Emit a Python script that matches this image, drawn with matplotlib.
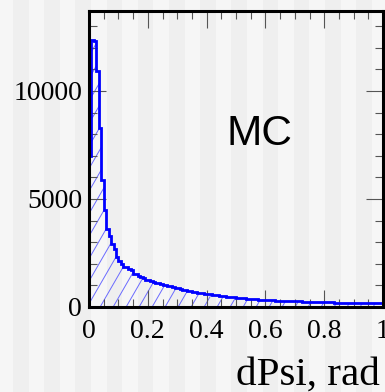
import matplotlib
matplotlib.use("Agg")
import matplotlib.pyplot as plt
from matplotlib.patches import Rectangle
from matplotlib.collections import LineCollection
from matplotlib.ticker import MultipleLocator
import numpy as np

# dPsi histogram, 120 bins over [0, 1] (counts)
bin_lo, bin_hi, n_bins = 0.0, 1.0, 120
counts = [
    7000, 12350, 12300, 10900, 8300, 5900, 4500, 3600, 3300, 2900,
    2700, 2300, 2150, 2000, 1870, 1850, 1750, 1700, 1550, 1520,
    1420, 1390, 1330, 1260, 1250, 1200, 1150, 1110, 1090, 1060,
    1020, 1000, 985, 950, 920, 895, 860, 820, 780, 765,
    740, 720, 705, 690, 660, 645, 630, 610, 600, 590,
    570, 560, 550, 530, 515, 500, 480, 472, 460, 450,
    430, 425, 410, 400, 392, 380, 372, 360, 352, 345,
    335, 330, 320, 316, 310, 305, 300, 296, 290, 285,
    280, 278, 270, 268, 262, 258, 255, 250, 246, 240,
    238, 235, 230, 228, 225, 222, 218, 215, 212, 210,
    208, 205, 203, 200, 198, 196, 194, 192, 190, 188,
    186, 184, 182, 180, 178, 176, 175, 173, 172, 170,
]
x_ticks = [0, 0.2, 0.4, 0.6, 0.8, 1]
x_ticklabels = ["0", "0.2", "0.4", "0.6", "0.8", "1"]
y_ticks = [0, 5000, 10000]
x_label = "dPsi, rad"
tag = "MC"

W, H = 385, 392
fig = plt.figure(figsize=(W / 100, H / 100), dpi=100)
fig.patch.set_facecolor("#f6f6f6")

# faint vertical page stripes behind everything
stripe_w = 15.6
x0 = 13.0
while x0 < W:
    fig.patches.append(Rectangle((x0 / W, 0), stripe_w / W, 1, transform=fig.transFigure,
                                 facecolor="#efefef", edgecolor="none", zorder=-10))
    x0 += 2 * stripe_w

ax_w, ax_h = 383 - 89, 307 - 11
ax = fig.add_axes([89 / W, 1 - 307 / H, ax_w / W, ax_h / H])
ax.set_facecolor("none")

edges = np.linspace(bin_lo, bin_hi, n_bins + 1)
area = ax.stairs(counts, edges, fill=True, facecolor="none", edgecolor="none", zorder=1)
ax.stairs(counts, edges, color="#0000ff", linewidth=2.0, zorder=2)

# ROOT-like hatching: thin diagonal lines clipped to the filled histogram
spacing, angle = 13.0, 60.0
run = ax_h / np.tan(np.radians(angle))
segs = []
for xs in np.arange(-run, ax_w + spacing, spacing):
    segs.append([(xs / ax_w, 0.0), ((xs + run) / ax_w, 1.0)])
hatch = LineCollection(segs, colors="#6a6aff", linewidths=0.7,
                       transform=ax.transAxes, zorder=1.5)
ax.add_collection(hatch)
hatch.set_clip_path(area)

ax.set_xlim(0, 1)
ax.set_ylim(0, 13700)

serif = ["Liberation Serif", "DejaVu Serif"]
ax.set_xticks(x_ticks)
ax.set_xticklabels(x_ticklabels, family=serif, fontsize=20)
ax.set_yticks(y_ticks)
ax.set_yticklabels([str(v) for v in y_ticks], family=serif, fontsize=20)
ax.xaxis.set_minor_locator(MultipleLocator(0.05))
ax.yaxis.set_minor_locator(MultipleLocator(1000))

ax.tick_params(which="both", direction="in", top=True, right=True, color="#555555", width=0.8)
ax.tick_params(which="major", length=12.5)
ax.tick_params(which="minor", length=6)
ax.tick_params(axis="x", pad=9)
ax.tick_params(axis="y", pad=5)

for s in ax.spines.values():
    s.set_linewidth(2.2)
    s.set_color("black")
    s.set_zorder(5)

ax.text(0.469, 7500, tag, family=["Liberation Sans", "DejaVu Sans"], fontsize=30.5,
        ha="left", va="baseline")
fig.text(380 / W, 1 - 385 / H, x_label, family=serif, fontsize=29.5,
         ha="right", va="baseline")

fig.savefig("out.png", dpi=100, facecolor=fig.get_facecolor())
